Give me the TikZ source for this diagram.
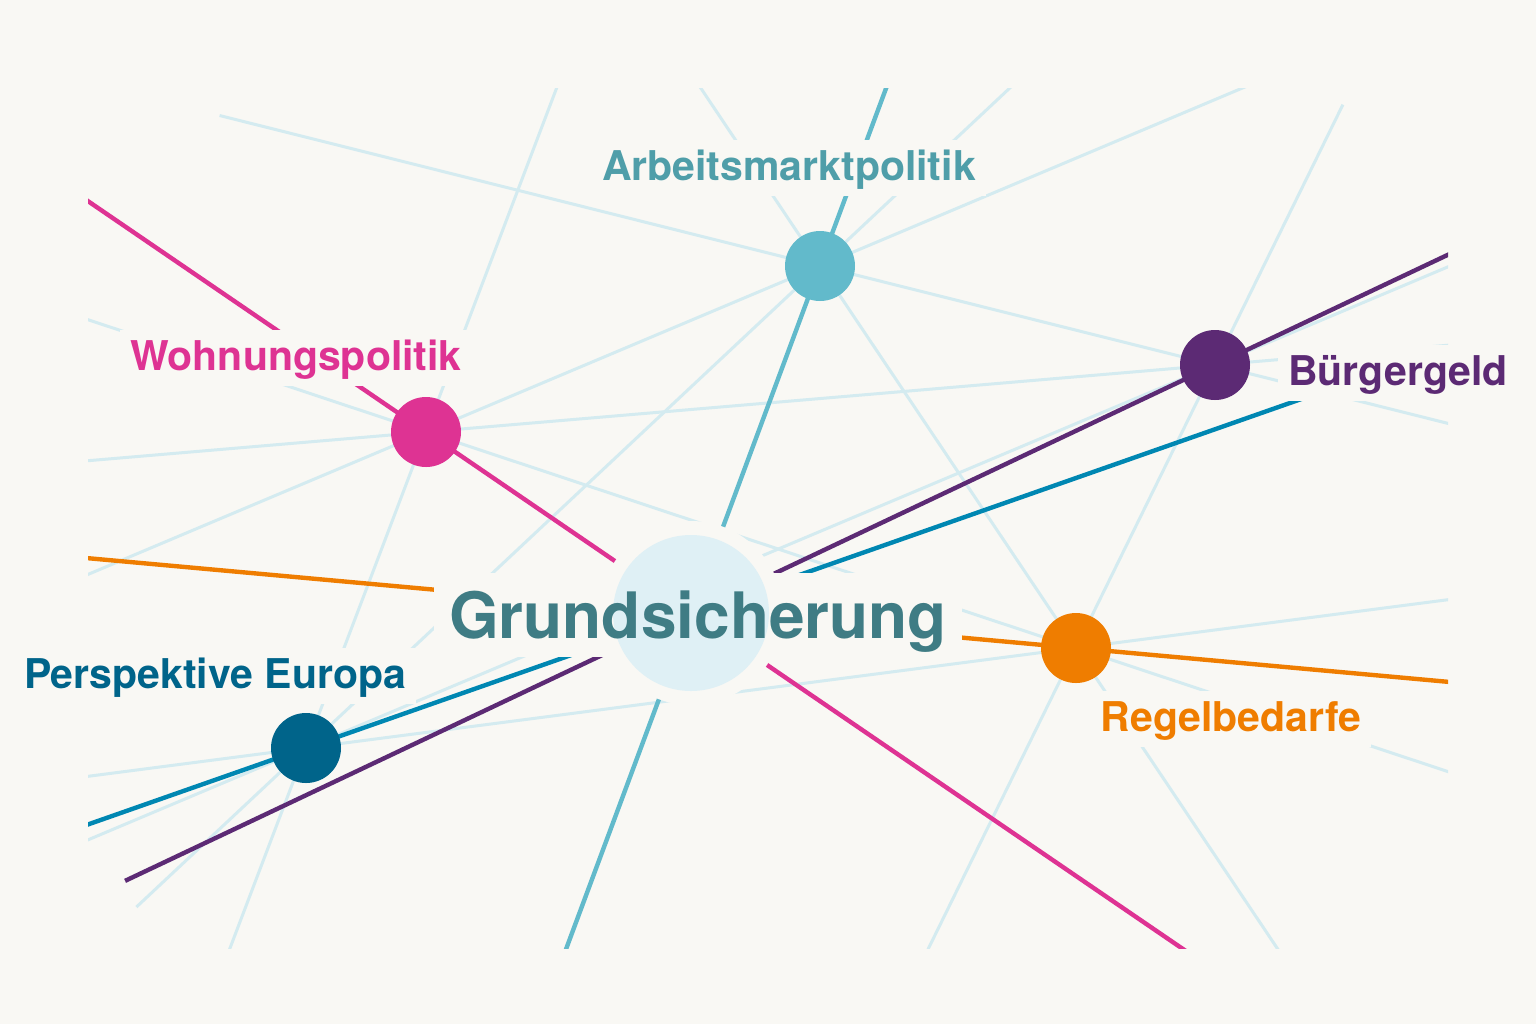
\documentclass[tikz,border=0pt]{standalone}
\usepackage{fontspec}
\setmainfont{TeX Gyre Heros}
\usetikzlibrary{calc}

\definecolor{paper}{HTML}{F9F8F4}
\definecolor{thread}{HTML}{D4EBF0}
\definecolor{hubfill}{HTML}{DFF0F5}
\definecolor{hubtext}{HTML}{3F7C84}
\definecolor{pink}{HTML}{DE3393}
\definecolor{amber}{HTML}{EF7D00}
\definecolor{plum}{HTML}{5C2A74}
\definecolor{sea}{HTML}{0087B2}
\definecolor{navy}{HTML}{00648A}
\definecolor{aqua}{HTML}{62BACB}
\definecolor{aquatext}{HTML}{4F9EA9}

\pgfdeclarelayer{ground}
\pgfdeclarelayer{web}
\pgfdeclarelayer{mask}
\pgfsetlayers{ground,web,mask,main}

\tikzset{
  thread/.style={draw=thread, line width=1.5pt},
  strand/.style={draw=#1, line width=2.2pt},
  dot/.style={circle, fill=#1, minimum size=35pt, inner sep=0pt},
  tag/.style={anchor=base, fill=paper, text=#1, inner xsep=5pt, inner ysep=0pt,
    text height=20pt, text depth=8pt, font=\bfseries\fontsize{20.5}{24}\selectfont},
}

\begin{document}
\begin{tikzpicture}[x=0.5pt, y=-0.5pt]
		%%%%% START %%%%%
		\begin{pgfonlayer}{ground}
		\fill[paper] (0, 0) rectangle (1536, 1024);
		\end{pgfonlayer}
		\useasboundingbox (0, 0) rectangle (1536, 1024);
		
		% themes
		\node[dot=aqua] (arb) at (820, 266) {};
		\node[dot=pink] (wohn) at (426, 432) {};
		\node[dot=plum] (buerg) at (1215, 365) {};
		\node[dot=amber] (regel) at (1076, 648) {};
		\node[dot=navy] (europa) at (306, 748) {};
		
		% centre
		\node[circle, fill=hubfill, minimum size=78pt, inner sep=0pt] (hub) at (691, 613) {};
		\node[anchor=base, text=hubtext, inner xsep=7.5pt, inner ysep=0pt, text height=32.5pt,
		  text depth=9.5pt, font=\bfseries\fontsize{32}{36}\selectfont] (grund) at (698, 638) {Grundsicherung};
		
		% labels
		\node[tag=aquatext] (arbtag) at (789, 180) {Arbeitsmarktpolitik};
		\node[tag=pink] (wohntag) at (296, 370) {Wohnungspolitik};
		\node[tag=plum] (buergtag) at (1398, 385) {Bürgergeld};
		\node[tag=amber] (regeltag) at (1231, 731) {Regelbedarfe};
		\node[tag=navy] (europatag) at (215, 688) {Perspektive Europa};
		
		\begin{pgfonlayer}{mask}
		\fill[paper] (grund.south west) rectangle (grund.north east);
		\fill[paper] (hub) circle (46pt);
		\end{pgfonlayer}
		
		\begin{pgfonlayer}{web}
		\clip (88, 88) rectangle (1448, 948);
		% light web between the themes
		\foreach \a/\b/\s/\t in {arb/wohn/-4/5, arb/regel/-4/5, arb/europa/-4/1.33, arb/buerg/-1.52/5,
		  wohn/buerg/-4/5, wohn/regel/-4/5, wohn/europa/-4/5, buerg/regel/-0.92/5,
		  buerg/europa/-4/5, regel/europa/-4/5}
		  \draw[thread] ($(\a)!\s!(\b)$) -- ($(\a)!\t!(\b)$);
		
		% strands through the centre
		\draw[strand=pink] ($(hub)!-4!(wohn)$) -- ($(hub)!4!(wohn)$);
		\draw[strand=amber] ($(hub)!-4!(regel)$) -- ($(hub)!4!(regel)$);
		\draw[strand=plum] ($(hub)!-1.08!(buerg)$) -- ($(hub)!4!(buerg)$);
		\draw[strand=sea] ($(hub)!-4!(europa)$) -- ($(hub)!4!(europa)$);
		\draw[strand=aqua] ($(hub)!-4!(arb)$) -- ($(hub)!4!(arb)$);
		\end{pgfonlayer}
		%%%%% END %%%%%
	\end{tikzpicture}
\end{document}
